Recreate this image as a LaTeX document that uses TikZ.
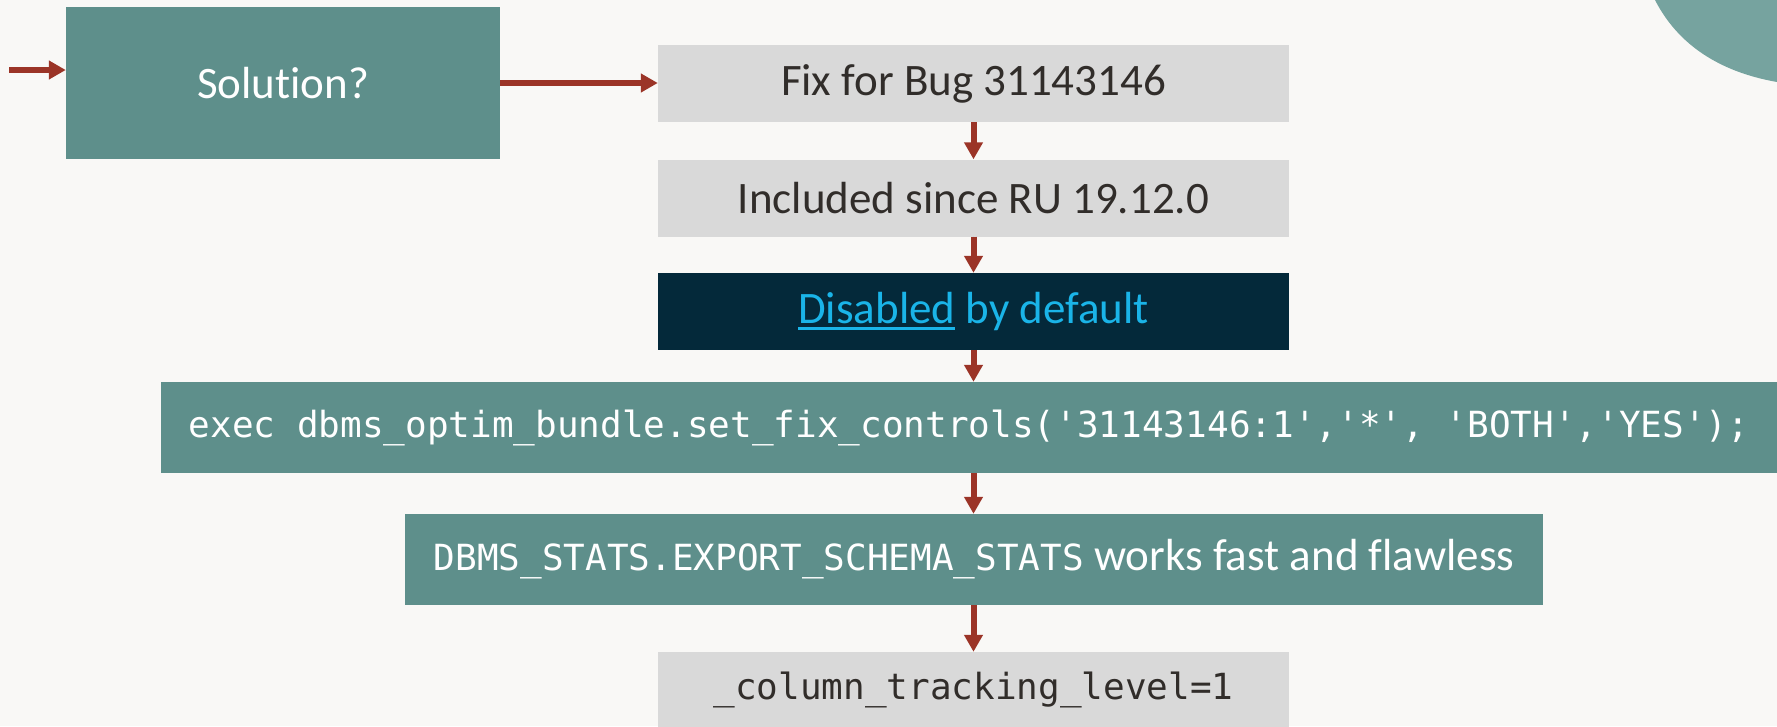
\documentclass[tikz,border=0pt]{standalone}
\usepackage{fontspec}
\setmainfont{Carlito}[Ligatures=NoCommon]
\newfontfamily\monof{DejaVu Sans Mono}
\usetikzlibrary{arrows.meta}
\definecolor{bgc}{HTML}{F9F8F6}
\definecolor{tealc}{HTML}{5E8F8B}
\definecolor{grayc}{HTML}{D9D9D9}
\definecolor{darkc}{HTML}{04293A}
\definecolor{linkc}{HTML}{1AB4E8}
\definecolor{redc}{HTML}{9B3427}
\definecolor{txtc}{HTML}{312D2A}
\definecolor{circc}{HTML}{76A39F}
\newcommand\myul[1]{\setbox0\hbox{#1}\rlap{\color{linkc}\rule[-6pt]{\wd0}{2.5pt}}\box0\relax}
\tikzset{
  box/.style={inner sep=0pt, anchor=center},
  graybox/.style={box, fill=grayc, text=txtc, font=\fontsize{45}{54}\selectfont},
  tealbox/.style={box, fill=tealc, text=white, font=\fontsize{45}{54}\selectfont},
  darkbox/.style={box, fill=darkc, text=linkc, font=\fontsize{45}{54}\selectfont},
  arr/.style={draw=redc, line width=6pt, -{Triangle[length=17pt,width=18pt]}, fill=redc}
}
\begin{document}
\begin{tikzpicture}[x=1pt,y=-1pt]
\useasboundingbox (0,0) rectangle (1777,726);
\fill[bgc] (0,0) rectangle (1777,726);
\fill[circc] (1655,0) .. controls (1678,45) and (1720,72) .. (1777,82) -- (1777,0) -- cycle;

\node[tealbox, minimum width=434pt, minimum height=152pt] (sol) at (283,83) {Solution?};
\node[graybox, minimum width=631pt, minimum height=77pt] (fix) at (973.5,83.5) {Fix for Bug 31143146};
\node[graybox, minimum width=631pt, minimum height=77pt] (inc) at (973.5,198) {Included since RU 19.12.0};
\node[darkbox, minimum width=631pt, minimum height=77pt] (dis) at (973.5,311.5) {\myul{Disabled} by default};
\node[tealbox, minimum width=1616pt, minimum height=91pt, font=\monof\fontsize{36}{44}\selectfont] (exec) at (969,427.5) {exec dbms\_optim\_bundle.set\_fix\_controls('31143146:1','*', 'BOTH','YES');};
\node[tealbox, minimum width=1138pt, minimum height=91pt] (dbms) at (974,559.5) {{\monof\fontsize{36}{44}\selectfont DBMS\_STATS.EXPORT\_SCHEMA\_STATS} works fast and flawless};
\node[graybox, minimum width=631pt, minimum height=76pt, font=\monof\fontsize{36}{44}\selectfont] (col) at (973.5,690) {\_column\_tracking\_level=1};

\coordinate (in) at (9,70);
\draw[arr] (in) -- (in -| sol.west);
\draw[arr] (sol.east) -- (sol.east -| fix.west);
\draw[arr] (fix.south) -- (inc.north);
\draw[arr] (inc.south) -- (dis.north);
\draw[arr] (dis.south) -- (dis.south |- exec.north);
\draw[arr] (dis.south |- exec.south) -- (dis.south |- dbms.north);
\draw[arr] (dis.south |- dbms.south) -- (col.north);
\end{tikzpicture}
\end{document}
